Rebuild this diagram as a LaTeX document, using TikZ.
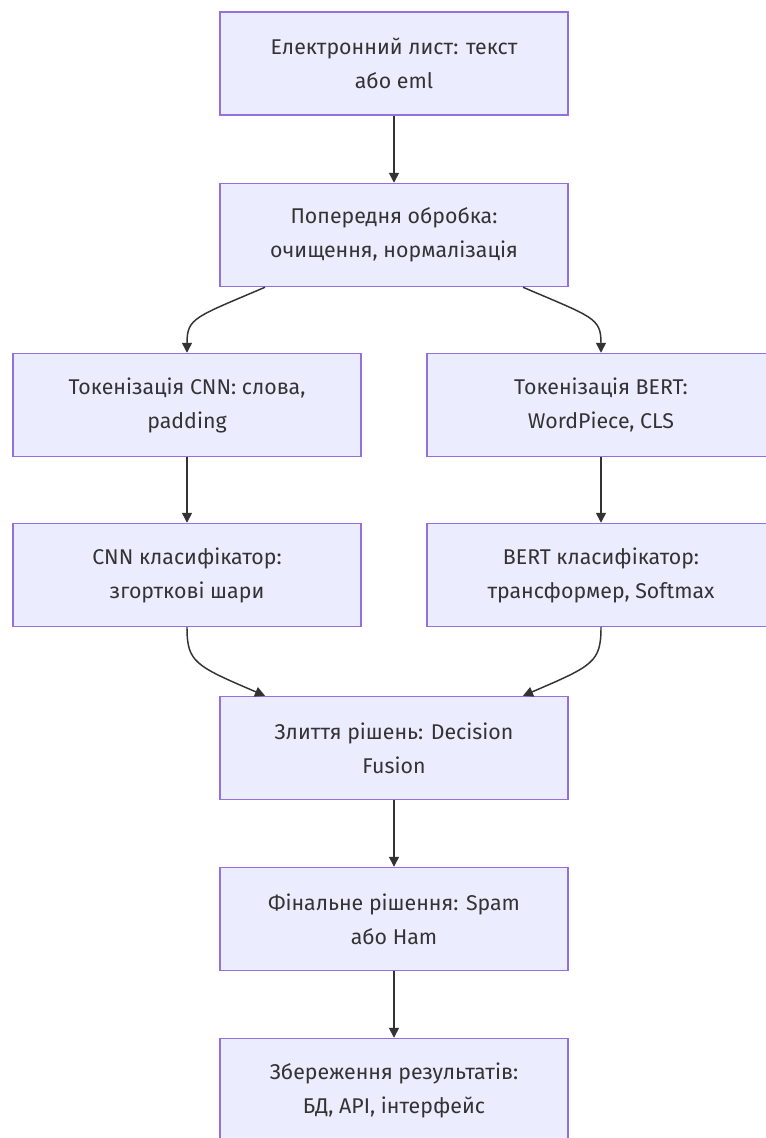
\documentclass[tikz,border=0pt]{standalone}
\usepackage{fontspec}
\setmainfont{Fira Sans}
\usetikzlibrary{arrows.meta}
\definecolor{boxfill}{HTML}{ECECFF}
\definecolor{boxline}{HTML}{9370DB}
\definecolor{txt}{HTML}{333333}
\begin{document}
\begin{tikzpicture}[x=0.75pt,y=-0.75pt,
  box/.style={draw=boxline,fill=boxfill,line width=1.1pt,minimum width=348*0.75pt,minimum height=103*0.75pt,
    align=center,text=txt,font=\fontsize{16pt}{25.5pt}\selectfont,inner sep=0pt},
  link/.style={draw=txt,line width=1.1pt,-{Triangle[length=7.5pt,width=7.5pt]}}]
\useasboundingbox (0,0) rectangle (766,1138);
\fill[white] (0,0) rectangle (766,1138);
\node[box] (a) at (394,63.5) {Електронний лист: текст\\або eml};
\node[box] (b) at (394,235) {Попередня обробка:\\очищення, нормалізація};
\node[box] (c) at (187,405) {Токенізація CNN: слова,\\padding};
\node[box] (d) at (601,405) {Токенізація BERT:\\WordPiece, CLS};
\node[box] (e) at (187,575) {CNN класифікатор:\\згорткові шари};
\node[box] (f) at (601,575) {BERT класифікатор:\\трансформер, Softmax};
\node[box] (g) at (394,748) {Злиття рішень: Decision\\Fusion};
\node[box] (h) at (394,919) {Фінальне рішення: Spam\\або Ham};
\node[box] (i) at (394,1090) {Збереження результатів:\\БД, API, інтерфейс};
\draw[link] (a.south) -- (b.north);
\draw[link] ([xshift=-129*0.75pt]b.south) .. controls ++(-70,30) and ++(0,-35) .. (c.north);
\draw[link] ([xshift=129*0.75pt]b.south) .. controls ++(70,30) and ++(0,-35) .. (d.north);
\draw[link] (c.south) -- (e.north);
\draw[link] (d.south) -- (f.north);
\draw[link] (e.south) .. controls ++(0,35) and ++(-70,-30) .. ([xshift=-129*0.75pt]g.north);
\draw[link] (f.south) .. controls ++(0,35) and ++(70,-30) .. ([xshift=129*0.75pt]g.north);
\draw[link] (g.south) -- (h.north);
\draw[link] (h.south) -- (i.north);
\end{tikzpicture}
\end{document}
